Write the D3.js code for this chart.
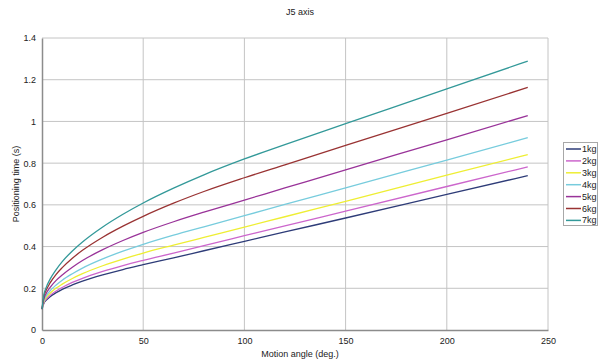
<!DOCTYPE html>
<html>
<head>
<meta charset="utf-8">
<script src="https://cdn.jsdelivr.net/npm/d3@7"></script>
<style>
  body { margin: 0; background: #fff; }
  svg text { font-family: "Liberation Sans", "DejaVu Sans", sans-serif; fill: #222; }
</style>
</head>
<body>
<div id="chart"></div>
<script>
// motion angle (deg.) sample points
const angles = [0, 1, 2, 4, 7, 10, 15, 20, 30, 40, 50, 65, 80, 100, 120, 150, 200, 240];

// positioning time (s) per payload
const t1kg = [0.100, 0.130, 0.142, 0.160, 0.179, 0.195, 0.216, 0.234, 0.264, 0.290, 0.313, 0.346, 0.380, 0.425, 0.470, 0.537, 0.650, 0.740];
const t2kg = [0.100, 0.133, 0.147, 0.166, 0.187, 0.204, 0.228, 0.248, 0.281, 0.309, 0.334, 0.369, 0.405, 0.452, 0.499, 0.570, 0.688, 0.782];
const t3kg = [0.100, 0.138, 0.154, 0.176, 0.201, 0.220, 0.247, 0.270, 0.308, 0.340, 0.369, 0.407, 0.444, 0.493, 0.543, 0.617, 0.742, 0.841];
const t4kg = [0.100, 0.144, 0.162, 0.188, 0.216, 0.239, 0.270, 0.297, 0.341, 0.378, 0.411, 0.455, 0.495, 0.548, 0.602, 0.681, 0.815, 0.922];
const t5kg = [0.100, 0.152, 0.174, 0.204, 0.238, 0.264, 0.301, 0.333, 0.385, 0.429, 0.468, 0.519, 0.565, 0.623, 0.681, 0.768, 0.912, 1.028];
const t6kg = [0.100, 0.163, 0.189, 0.226, 0.267, 0.299, 0.344, 0.382, 0.445, 0.498, 0.545, 0.608, 0.664, 0.730, 0.792, 0.885, 1.039, 1.163];
const t7kg = [0.100, 0.172, 0.202, 0.244, 0.290, 0.328, 0.379, 0.422, 0.494, 0.555, 0.609, 0.680, 0.744, 0.820, 0.889, 0.989, 1.156, 1.289];

const seriesNames = ["1kg", "2kg", "3kg", "4kg", "5kg", "6kg", "7kg"];
const seriesValues = [t1kg, t2kg, t3kg, t4kg, t5kg, t6kg, t7kg];
const colors = ["#2e3c78", "#cc66cc", "#eeee33", "#77ccdd", "#993399", "#993333", "#339999"];

const xTicks = [0, 50, 100, 150, 200, 250];
const yTicks = [0, 0.2, 0.4, 0.6, 0.8, 1, 1.2, 1.4];

const width = 600, height = 360;
const plot = { left: 42, right: 548, top: 38, bottom: 330 };

const svg = d3.select("#chart")
    .append("svg")
    .attr("width", width)
    .attr("height", height);

const x = d3.scaleLinear().domain([0, 250]).range([plot.left, plot.right]);
const y = d3.scaleLinear().domain([0, 1.4]).range([plot.bottom, plot.top]);

// grid lines
svg.append("g")
    .selectAll("line")
    .data(xTicks.slice(1))
    .enter()
    .append("line")
    .attr("x1", d => x(d)).attr("x2", d => x(d))
    .attr("y1", plot.top).attr("y2", plot.bottom)
    .style("stroke", "#c4c4c4")
    .style("stroke-width", 1);

svg.append("g")
    .selectAll("line")
    .data(yTicks.slice(1))
    .enter()
    .append("line")
    .attr("x1", plot.left).attr("x2", plot.right)
    .attr("y1", d => y(d)).attr("y2", d => y(d))
    .style("stroke", "#c4c4c4")
    .style("stroke-width", 1);

// axes
const xAxis = svg.append("g")
    .attr("transform", `translate(0,${plot.bottom})`)
    .call(d3.axisBottom(x).tickValues(xTicks).tickSize(0).tickPadding(8).tickFormat(d3.format("d")));
const yAxis = svg.append("g")
    .attr("transform", `translate(${plot.left},0)`)
    .call(d3.axisLeft(y).tickValues(yTicks).tickSize(0).tickPadding(6).tickFormat(d => String(+d.toFixed(1))));

[xAxis, yAxis].forEach(a => {
    a.select(".domain").style("stroke", "#8c8c8c").style("stroke-width", 1.5);
    a.selectAll("text").style("font-size", "9px").style("fill", "#222");
});

// series lines
const line = d3.line()
    .x((d, i) => x(angles[i]))
    .y(d => y(d))
    .curve(d3.curveMonotoneX);

svg.append("g")
    .selectAll("path")
    .data(seriesValues)
    .enter()
    .append("path")
    .attr("d", line)
    .style("fill", "none")
    .style("stroke", (d, i) => colors[i])
    .style("stroke-width", 1.3);

// titles
svg.append("text")
    .attr("x", 300).attr("y", 15)
    .attr("text-anchor", "middle")
    .style("font-size", "9px")
    .text("J5 axis");

svg.append("text")
    .attr("x", 300).attr("y", 357)
    .attr("text-anchor", "middle")
    .style("font-size", "9px")
    .text("Motion angle (deg.)");

svg.append("text")
    .attr("transform", `translate(19,${(plot.top + plot.bottom) / 2}) rotate(-90)`)
    .attr("text-anchor", "middle")
    .style("font-size", "9px")
    .text("Positioning time (s)");

// legend
const legend = svg.append("g");
legend.append("rect")
    .attr("x", 563.5).attr("y", 142.5)
    .attr("width", 34).attr("height", 83)
    .style("fill", "#fff")
    .style("stroke", "#a8a8a8");

const item = legend.selectAll(".item")
    .data(seriesNames)
    .enter()
    .append("g")
    .attr("class", "item")
    .attr("transform", (d, i) => `translate(0,${149 + i * 11.9})`);

item.append("line")
    .attr("x1", 566).attr("x2", 581)
    .style("stroke", (d, i) => colors[i])
    .style("stroke-width", 1.5);

item.append("text")
    .attr("x", 582).attr("y", 3)
    .style("font-size", "9px")
    .text(d => d);
</script>
</body>
</html>
